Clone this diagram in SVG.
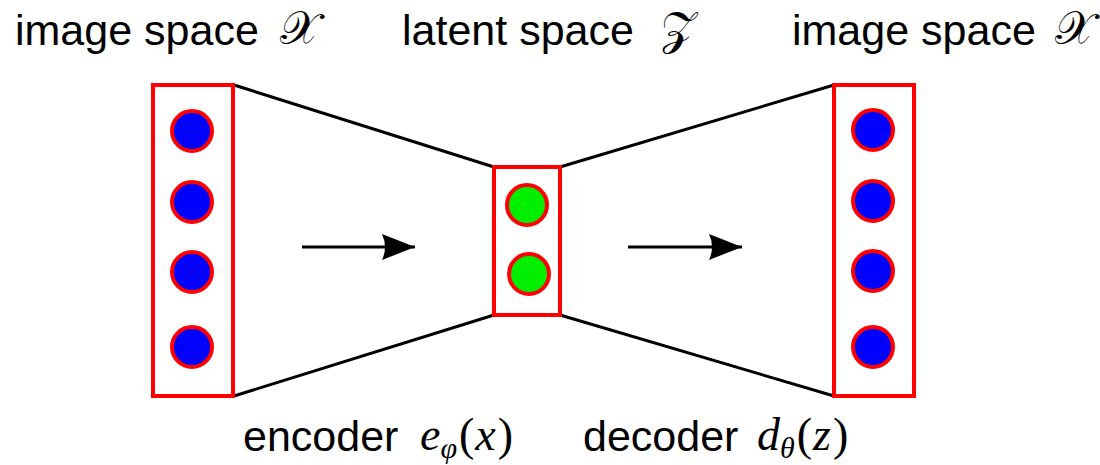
<svg xmlns="http://www.w3.org/2000/svg" width="1100" height="465" viewBox="0 0 1100 465">
<style>
.lbl{font-family:"Liberation Sans",Arial,sans-serif;font-size:43px;fill:#000}
.math{font-family:"Liberation Serif","Times New Roman",serif;font-style:italic;font-size:46px;fill:#000}
.cal{font-family:"DejaVu Serif","Noto Sans","Liberation Serif",serif;font-size:46px;fill:#000}
.box{fill:#fff;stroke:#ff0000;stroke-width:4}
.img{fill:#0000ff;stroke:#ff0000;stroke-width:4}
.lat{fill:#00ee00;stroke:#ff0000;stroke-width:4}
.edge{stroke:#000;stroke-width:3;fill:none}
.arr{stroke:#000;stroke-width:3;fill:none;marker-end:url(#head)}
</style>
<defs>
<marker id="head" markerUnits="userSpaceOnUse" markerWidth="40" markerHeight="30" refX="33" refY="13" orient="auto">
<path d="M0,0 L33,13 L0,26 Q6,13 0,0 Z" fill="#000"/>
</marker>
</defs>
<g id="connectors">
<line class="edge" x1="234" y1="85" x2="494" y2="167"/>
<line class="edge" x1="234" y1="396" x2="494" y2="315"/>
<line class="edge" x1="560" y1="167" x2="834" y2="85"/>
<line class="edge" x1="560" y1="315" x2="834" y2="396"/>
<line class="arr" x1="302" y1="247" x2="415" y2="247"/>
<line class="arr" x1="628" y1="247" x2="742" y2="247"/>
</g>
<g id="input">
<rect class="box" x="153" y="85" width="80" height="311"/>
<circle class="img" cx="192" cy="131" r="20"/>
<circle class="img" cx="192" cy="202" r="20"/>
<circle class="img" cx="192" cy="272" r="20"/>
<circle class="img" cx="192" cy="347" r="20"/>
</g>
<g id="latent">
<rect class="box" x="494" y="167" width="66" height="148"/>
<circle class="lat" cx="527" cy="205" r="20"/>
<circle class="lat" cx="529" cy="274" r="20"/>
</g>
<g id="output">
<rect class="box" x="834" y="85" width="80" height="311"/>
<circle class="img" cx="873" cy="130" r="20"/>
<circle class="img" cx="873" cy="201" r="20"/>
<circle class="img" cx="873" cy="271" r="20"/>
<circle class="img" cx="873" cy="347" r="20"/>
</g>
<g id="labels">
<text class="lbl" x="15" y="45">image space</text>
<text class="cal" x="280" y="44">𝒳</text>
<text class="lbl" x="402" y="45">latent space</text>
<text class="cal" x="661" y="44">𝒵</text>
<text class="lbl" x="792" y="45">image space</text>
<text class="cal" x="1055" y="44">𝒳</text>
<text class="lbl" x="243" y="451">encoder</text>
<text class="math" x="420" y="450">e<tspan font-size="30" dy="8">φ</tspan><tspan font-style="normal" dy="-8" dx="2">(</tspan><tspan dx="1">x</tspan><tspan font-style="normal" dx="2">)</tspan></text>
<text class="lbl" x="583" y="451">decoder</text>
<text class="math" x="757" y="450">d<tspan font-size="30" dy="8">θ</tspan><tspan font-style="normal" dy="-8" dx="2">(</tspan><tspan dx="1">z</tspan><tspan font-style="normal" dx="2">)</tspan></text>
</g>
</svg>
